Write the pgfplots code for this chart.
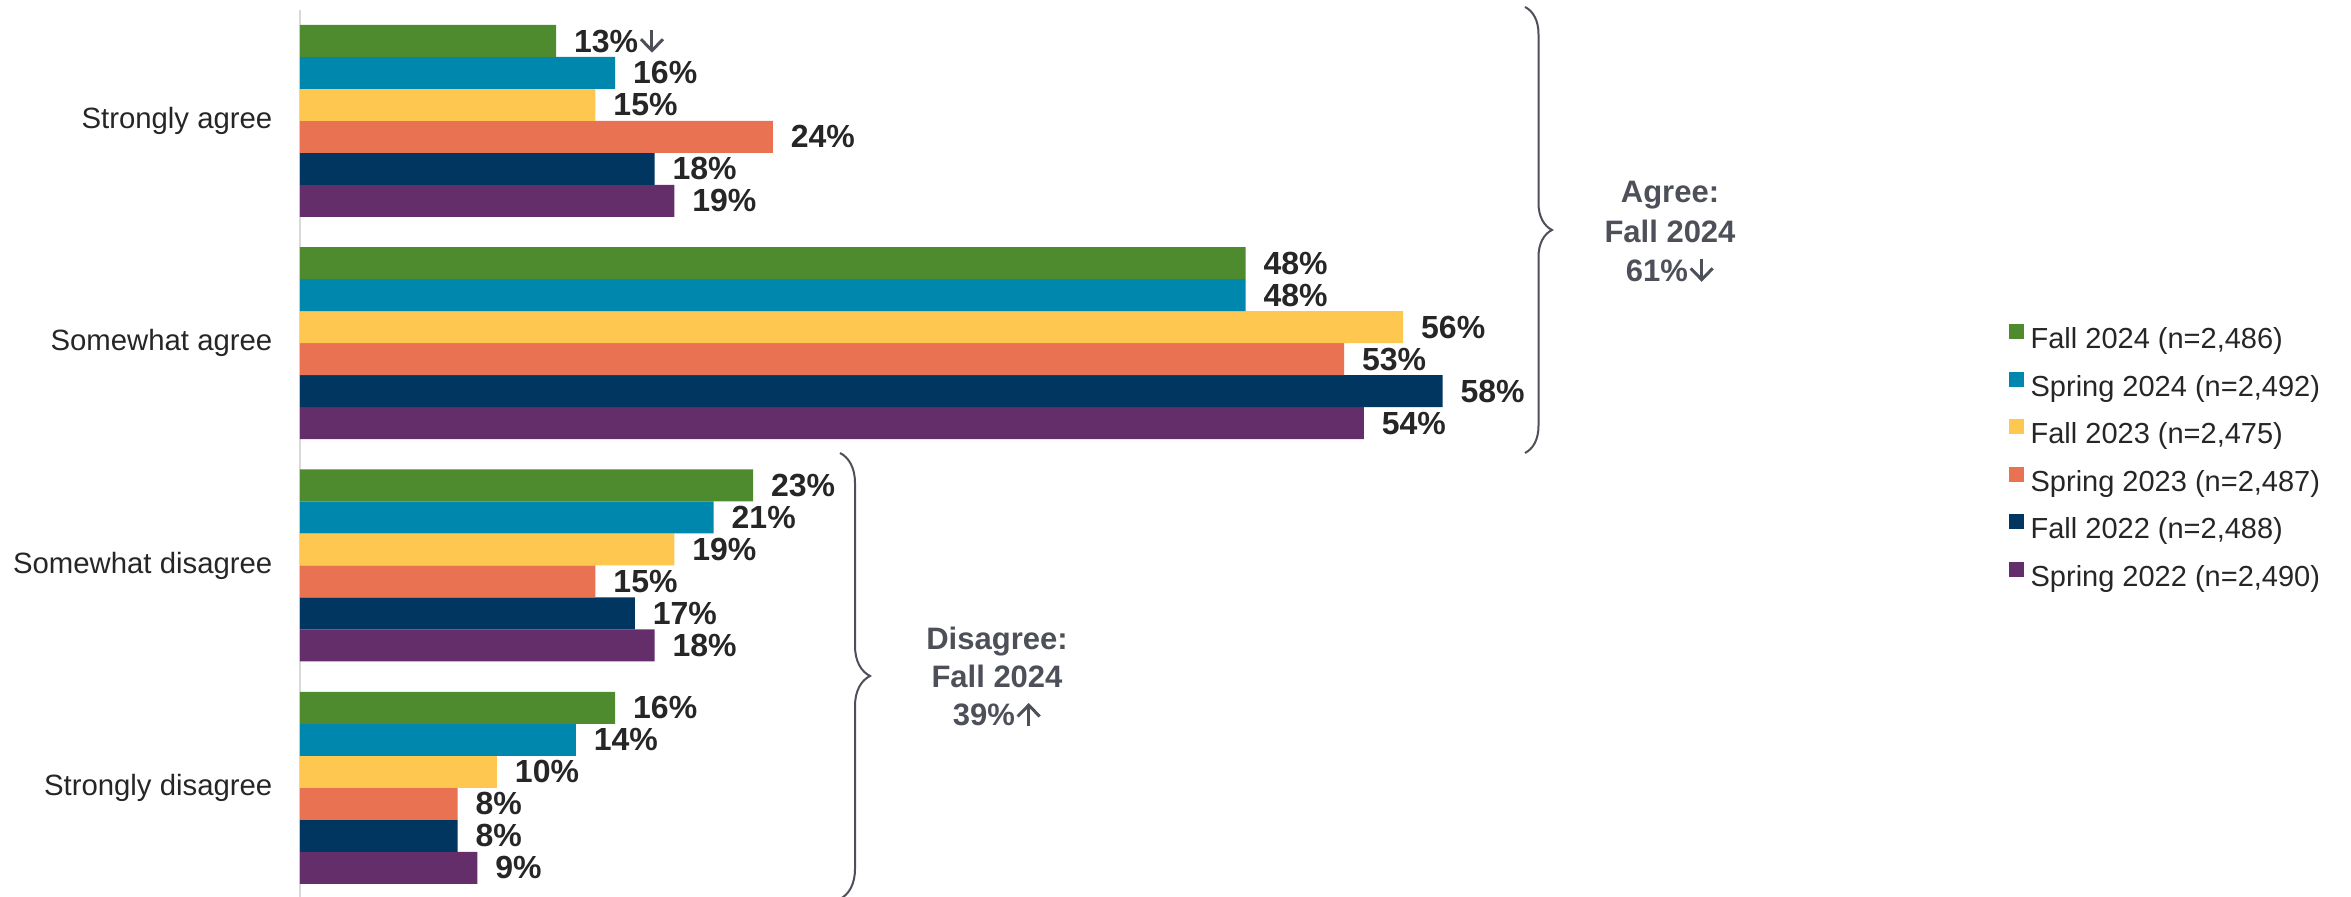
\documentclass[border=0pt]{standalone}
\usepackage{pgfplots}
\pgfplotsset{compat=1.18}
\usepackage{fontspec}
\setmainfont{Liberation Sans}
\usetikzlibrary{decorations.pathreplacing}

\definecolor{cFa24}{HTML}{4E8B2E}
\definecolor{cSp24}{HTML}{0087AE}
\definecolor{cFa23}{HTML}{FEC750}
\definecolor{cSp23}{HTML}{E87251}
\definecolor{cFa22}{HTML}{00365F}
\definecolor{cSp22}{HTML}{642E6A}
\definecolor{txt}{HTML}{262626}
\definecolor{ann}{HTML}{4D5058}
\definecolor{axgray}{HTML}{D9D9D9}

% thin arrows like the ones in the source chart
\tikzset{arr/.style={draw=ann, fill=none, line width=0.9pt, miter limit=4}}
\protected\def\arrdown{\hspace{0.4pt}\tikz[baseline=0pt]{\path[arr]
  (3.6pt,6.9pt)--(3.6pt,0.8pt); \path[arr]
  (0.3pt,4.1pt)--(3.6pt,0.7pt)--(6.9pt,4.1pt);}}
\protected\def\arrup{\hspace{0.4pt}\tikz[baseline=0pt]{\path[arr]
  (3.6pt,0pt)--(3.6pt,6.1pt); \path[arr]
  (0.3pt,2.8pt)--(3.6pt,6.2pt)--(6.9pt,2.8pt);}}

\begin{document}
\begin{tikzpicture}
\useasboundingbox (0,0) rectangle (705.3pt,269.1pt);
\begin{axis}[
  at={(90pt,-0.6pt)}, anchor=south west,
  scale only axis, width=354.6pt, height=266.8pt,
  xbar=0pt, bar width=9.6pt,
  xmin=0, xmax=60,
  ymin=-0.5, ymax=3.5, y dir=reverse,
  ytick={0,1,2,3},
  yticklabels={Strongly agree,Somewhat agree,Somewhat disagree,Strongly disagree},
  xtick=\empty,
  axis x line=none, axis y line*=left,
  y axis line style={draw=axgray, line width=0.6pt},
  major tick length=0pt,
  yticklabel style={font=\fontsize{8.8}{10.5}\selectfont, text=txt, inner sep=0pt, xshift=-8.1pt},
  clip=false,
  /pgf/number format/assume math mode=true,
  point meta=x,
  nodes near coords={\pgfmathprintnumber{\pgfplotspointmeta}\%},
  every node near coord/.append style={font=\bfseries\fontsize{9.6}{11}\selectfont, text=txt, anchor=west, inner sep=0pt, xshift=5.2pt},
  reverse legend,
  legend cell align=left,
  legend image code/.code={\fill[#1] (0pt,0.6pt) rectangle (4.5pt,5.1pt);},
  legend style={at={(1.445,0.4955)}, anchor=west, draw=none, fill=none, inner sep=0pt,
    font=\fontsize{8.7}{10}\selectfont, text=txt, row sep=5.15pt,
    nodes={inner sep=0pt, text height=6.2pt, text depth=1.8pt},
    /tikz/every odd column/.append style={column sep=2.1pt}},
]
\addplot[fill=cSp22, draw=none] coordinates {(19,0) (54,1) (18,2) (9,3)};
\addlegendentry{Spring 2022 (n=2,490)}
\addplot[fill=cFa22, draw=none] coordinates {(18,0) (58,1) (17,2) (8,3)};
\addlegendentry{Fall 2022 (n=2,488)}
\addplot[fill=cSp23, draw=none] coordinates {(24,0) (53,1) (15,2) (8,3)};
\addlegendentry{Spring 2023 (n=2,487)}
\addplot[fill=cFa23, draw=none] coordinates {(15,0) (56,1) (19,2) (10,3)};
\addlegendentry{Fall 2023 (n=2,475)}
\addplot[fill=cSp24, draw=none] coordinates {(16,0) (48,1) (21,2) (14,3)};
\addlegendentry{Spring 2024 (n=2,492)}
\addplot[fill=cFa24, draw=none, point meta=explicit symbolic, nodes near coords={\pgfplotspointmeta}]
  coordinates {(13,0) [13\%\arrdown] (48,1) [48\%] (23,2) [23\%] (16,3) [16\%]};
\addlegendentry{Fall 2024 (n=2,486)}
\end{axis}

\draw[ann, line width=0.6pt, decorate, decoration={brace, amplitude=8.1pt}]
  (457.5pt,267pt) -- (457.5pt,133.2pt);
\node[align=center, font=\bfseries\fontsize{9.3}{11.85}\selectfont, text=ann]
  at (501pt,199.5pt) {Agree:\\Fall 2024\\61\%\arrdown};

\draw[ann, line width=0.6pt, decorate, decoration={brace, amplitude=9pt}]
  (252pt,133.2pt) -- (252pt,-0.6pt);
\node[align=center, font=\bfseries\fontsize{9.3}{11.5}\selectfont, text=ann]
  at (299.1pt,66pt) {Disagree:\\Fall 2024\\39\%\arrup};
\end{tikzpicture}
\end{document}
